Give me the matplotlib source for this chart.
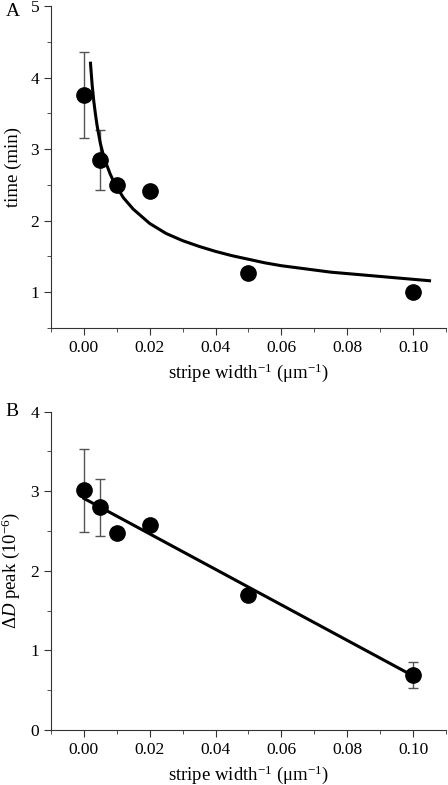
import matplotlib
matplotlib.use('Agg')
import matplotlib.pyplot as plt
from matplotlib.ticker import MultipleLocator, FormatStrFormatter

# panel A: time vs inverse stripe width
inv_width = [0.0, 0.005, 0.01, 0.02, 0.05, 0.1]
time_min = [3.75, 2.85, 2.50, 2.41, 1.27, 1.00]
time_err_x = [0.0, 0.005]
time_err_y = [3.75, 2.85]
time_err = [0.60, 0.42]
# fitted curve
fit_a_x = [0.002, 0.0025, 0.003, 0.0035, 0.004, 0.005, 0.006, 0.007, 0.008, 0.009,
           0.01, 0.012, 0.015, 0.02, 0.025, 0.03, 0.035, 0.04, 0.045, 0.05,
           0.055, 0.06, 0.065, 0.07, 0.075, 0.08, 0.085, 0.09, 0.095, 0.1, 0.105]
fit_a_y = [4.20, 3.90, 3.67, 3.49, 3.33, 3.08, 2.90, 2.77, 2.65, 2.55,
           2.47, 2.32, 2.16, 1.96, 1.82, 1.72, 1.64, 1.57, 1.51, 1.46,
           1.41, 1.37, 1.34, 1.31, 1.28, 1.26, 1.24, 1.22, 1.20, 1.18, 1.16]

# panel B: Delta D peak vs inverse stripe width
dD_peak = [3.01, 2.80, 2.47, 2.57, 1.70, 0.69]
dD_err_x = [0.0, 0.005, 0.1]
dD_err_y = [3.01, 2.80, 0.69]
dD_err = [0.52, 0.36, 0.16]
fit_b_x = [0.0, 0.1]
fit_b_y = [2.91, 0.68]

plt.rcParams['font.family'] = ['Liberation Serif', 'DejaVu Serif']
plt.rcParams['mathtext.fontset'] = 'custom'
plt.rcParams['mathtext.rm'] = 'Liberation Serif'
plt.rcParams['mathtext.it'] = 'Liberation Serif:italic'

fig = plt.figure(figsize=(4.48, 7.85), dpi=100)
axA = fig.add_axes([0.1138, 0.5822, 0.8817, 0.4102])
axB = fig.add_axes([0.1138, 0.0701, 0.8817, 0.4055])

xlab = r'stripe width$^{-1}$ ($\mathrm{\mu}$m$^{-1}$)'

def style(ax):
  for s in ['top', 'right']:
    ax.spines[s].set_visible(False)
  for s in ['left', 'bottom']:
    ax.spines[s].set_color('#333333')
  ax.set_xlim(-0.01, 0.11)
  ax.xaxis.set_major_locator(MultipleLocator(0.02))
  ax.xaxis.set_minor_locator(MultipleLocator(0.01))
  ax.xaxis.set_major_formatter(FormatStrFormatter('%.2f'))
  ax.yaxis.set_major_locator(MultipleLocator(1))
  ax.yaxis.set_minor_locator(MultipleLocator(0.5))
  ax.tick_params(which='major', direction='out', length=5, labelsize=12.5, color='#333333')
  ax.tick_params(which='minor', direction='out', length=3, color='#333333')
  ax.set_xlabel(xlab, fontsize=13.5, labelpad=4)

# A
style(axA)
axA.set_ylim(0.5, 5)
axA.errorbar(time_err_x, time_err_y, yerr=time_err, fmt='none', ecolor='#555555',
             elinewidth=1, capsize=3.5, capthick=1, zorder=2)
axA.plot(fit_a_x, fit_a_y, 'k-', linewidth=2.2, zorder=3)
axA.plot(inv_width, time_min, 'ko', markersize=11, zorder=4)
axA.set_ylabel('time (min)', fontsize=13.5, labelpad=6)
fig.text(0.012, 0.985, 'A', fontsize=14, va='center', ha='left')

# B
style(axB)
axB.set_ylim(0, 4)
axB.errorbar(dD_err_x, dD_err_y, yerr=dD_err, fmt='none', ecolor='#555555',
             elinewidth=1, capsize=3.5, capthick=1, zorder=2)
axB.plot(fit_b_x, fit_b_y, 'k-', linewidth=2.2, zorder=3)
axB.plot(inv_width, dD_peak, 'ko', markersize=11, zorder=4)
axB.set_ylabel(r'$\mathit{\Delta D}$ peak (10$^{-6}$)', fontsize=13.5, labelpad=6)
fig.text(0.012, 0.476, 'B', fontsize=14, va='center', ha='left')

fig.savefig('out.png', dpi=100)
plt.close(fig)
